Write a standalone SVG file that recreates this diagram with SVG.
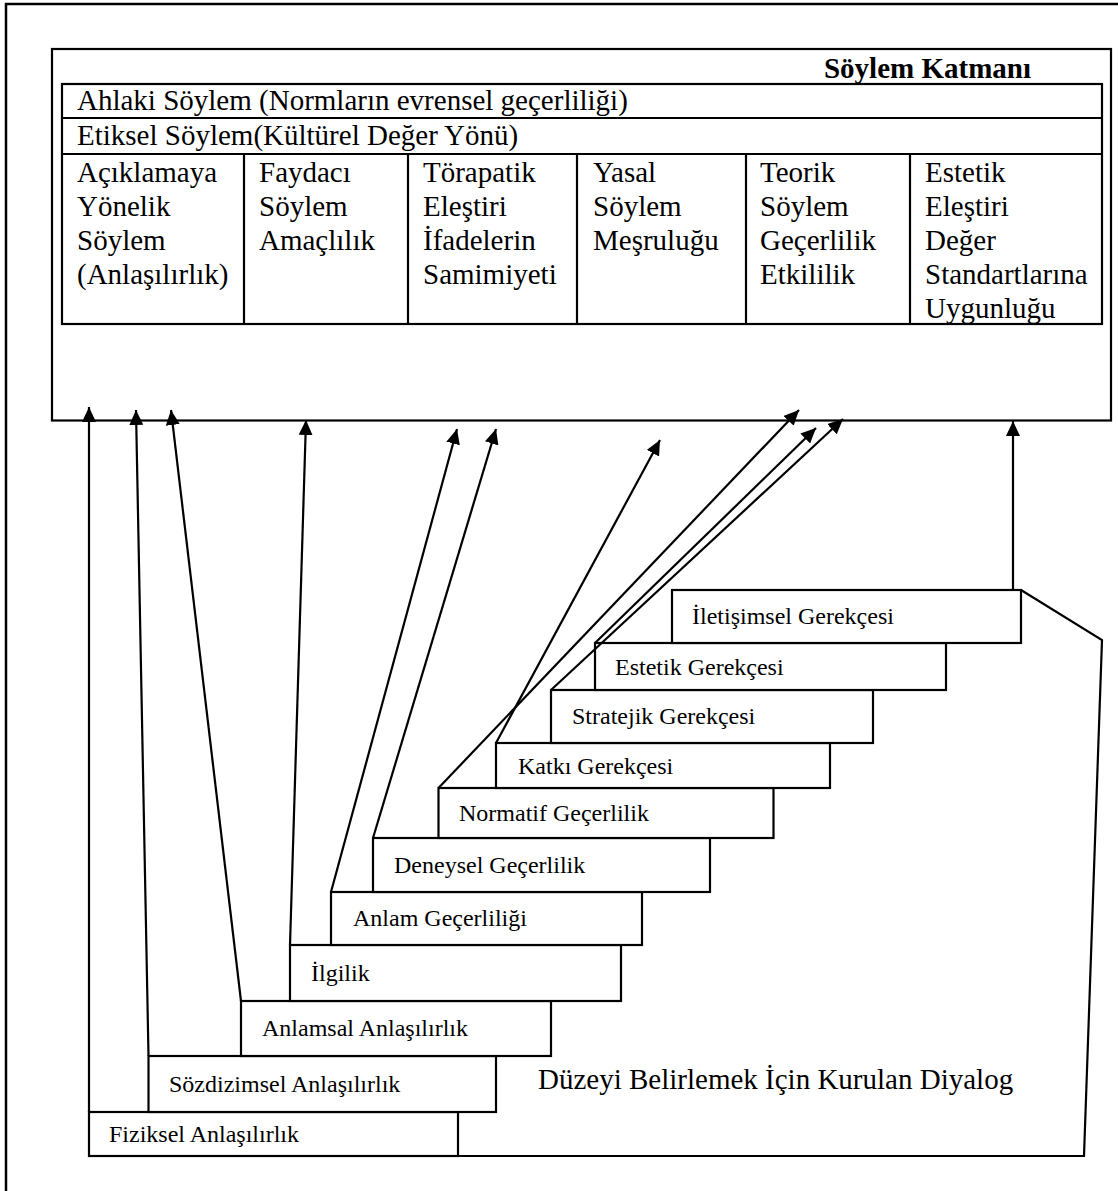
<svg xmlns="http://www.w3.org/2000/svg" width="1118" height="1191" viewBox="0 0 1118 1191">
  <style>
    .ln { stroke: #000; stroke-width: 2.2; fill: none; }
    .bx { stroke: #000; stroke-width: 2.2; fill: #fff; }
    .t { font-family: "Liberation Serif", "Times New Roman", serif; fill: #000; }
    .big { font-size: 29px; }
    .sm { font-size: 24px; }
    .b { font-weight: bold; }
    .ar { stroke: #000; stroke-width: 2.2; fill: none; marker-end: url(#ah); }
  </style>
  <defs>
    <marker id="ah" markerUnits="userSpaceOnUse" markerWidth="16" markerHeight="14" refX="15" refY="7" orient="auto">
      <path d="M0,0 L15,7 L0,14 z" fill="#000"/>
    </marker>
  </defs>
  <rect width="1118" height="1191" fill="#fff"/>
  <!-- outer frame (cropped) -->
  <path d="M6,1191 V4 H1118" stroke="#000" stroke-width="2.5" fill="none"/>

  <!-- top discourse layer box -->
  <g id="soylem-katmani">
    <rect class="ln" x="52" y="49" width="1059" height="371.5" stroke-width="2.5"/>
    <text class="t big b" x="1031" y="78" text-anchor="end">Söylem Katmanı</text>
    <rect class="ln" x="62" y="84" width="1040" height="240"/>
    <line class="ln" x1="62" y1="118" x2="1102" y2="118"/>
    <line class="ln" x1="62" y1="154" x2="1102" y2="154"/>
    <line class="ln" x1="244" y1="154" x2="244" y2="324"/>
    <line class="ln" x1="408" y1="154" x2="408" y2="324"/>
    <line class="ln" x1="577" y1="154" x2="577" y2="324"/>
    <line class="ln" x1="746" y1="154" x2="746" y2="324"/>
    <line class="ln" x1="910" y1="154" x2="910" y2="324"/>
    <text class="t big" x="77" y="110">Ahlaki Söylem (Normların evrensel geçerliliği)</text>
    <text class="t big" x="77" y="145">Etiksel Söylem(Kültürel Değer Yönü)</text>
    <text class="t big" x="77" y="182">Açıklamaya<tspan x="77" dy="34">Yönelik</tspan><tspan x="77" dy="34">Söylem</tspan><tspan x="77" dy="34">(Anlaşılırlık)</tspan></text>
    <text class="t big" x="259" y="182">Faydacı<tspan x="259" dy="34">Söylem</tspan><tspan x="259" dy="34">Amaçlılık</tspan></text>
    <text class="t big" x="423" y="182">Törapatik<tspan x="423" dy="34">Eleştiri</tspan><tspan x="423" dy="34">İfadelerin</tspan><tspan x="423" dy="34">Samimiyeti</tspan></text>
    <text class="t big" x="593" y="182">Yasal<tspan x="593" dy="34">Söylem</tspan><tspan x="593" dy="34">Meşruluğu</tspan></text>
    <text class="t big" x="760" y="182">Teorik<tspan x="760" dy="34">Söylem</tspan><tspan x="760" dy="34">Geçerlilik</tspan><tspan x="760" dy="34">Etkililik</tspan></text>
    <text class="t big" x="925" y="182">Estetik<tspan x="925" dy="34">Eleştiri</tspan><tspan x="925" dy="34">Değer</tspan><tspan x="925" dy="34">Standartlarına</tspan><tspan x="925" dy="34">Uygunluğu</tspan></text>
  </g>

  <!-- dialogue enclosure -->
  <g id="diyalog">
    <path class="ln" d="M1021,590 L1102,640 L1084,1156 L89,1156"/>
    <text class="t big" x="538" y="1089">Düzeyi Belirlemek İçin Kurulan Diyalog</text>
  </g>

  <!-- steps -->
  <g id="step-fiziksel"><rect class="bx" x="89" y="1112" width="369" height="44"/><text class="t sm" x="109" y="1142">Fiziksel Anlaşılırlık</text></g>
  <g id="step-sozdizimsel"><rect class="bx" x="148.5" y="1056" width="347.5" height="56"/><text class="t sm" x="169" y="1092">Sözdizimsel Anlaşılırlık</text></g>
  <g id="step-anlamsal"><rect class="bx" x="241" y="1001" width="310" height="55"/><text class="t sm" x="262" y="1036">Anlamsal Anlaşılırlık</text></g>
  <g id="step-ilgilik"><rect class="bx" x="290" y="945" width="331" height="56"/><text class="t sm" x="311" y="981">İlgilik</text></g>
  <g id="step-anlam"><rect class="bx" x="331" y="892" width="311" height="53"/><text class="t sm" x="353" y="926">Anlam Geçerliliği</text></g>
  <g id="step-deneysel"><rect class="bx" x="373" y="838" width="337" height="54"/><text class="t sm" x="394" y="873">Deneysel Geçerlilik</text></g>
  <g id="step-normatif"><rect class="bx" x="438.5" y="788" width="335" height="50"/><text class="t sm" x="459" y="821">Normatif Geçerlilik</text></g>
  <g id="step-katki"><rect class="bx" x="496" y="743" width="334" height="45"/><text class="t sm" x="518" y="774">Katkı Gerekçesi</text></g>
  <g id="step-stratejik"><rect class="bx" x="551" y="690" width="322" height="53"/><text class="t sm" x="572" y="724">Stratejik Gerekçesi</text></g>
  <g id="step-estetik"><rect class="bx" x="595" y="643" width="351" height="47"/><text class="t sm" x="615" y="675">Estetik Gerekçesi</text></g>
  <g id="step-iletisimsel"><rect class="bx" x="672" y="590" width="349" height="53"/><text class="t sm" x="692" y="624">İletişimsel Gerekçesi</text></g>

  <!-- connectors -->
  <g id="connectors">
    <line class="ar" x1="89" y1="1112" x2="89" y2="407"/>
    <line class="ar" x1="148.5" y1="1056" x2="136" y2="410"/>
    <line class="ar" x1="241" y1="1001" x2="171" y2="410"/>
    <line class="ar" x1="290" y1="945" x2="306" y2="420"/>
    <line class="ar" x1="331" y1="892" x2="457" y2="429"/>
    <line class="ar" x1="373" y1="838" x2="496" y2="429"/>
    <line class="ar" x1="496" y1="743" x2="660" y2="440"/>
    <line class="ar" x1="438.5" y1="788" x2="799" y2="410"/>
    <line class="ar" x1="595" y1="643" x2="816" y2="428"/>
    <line class="ar" x1="551" y1="690" x2="843" y2="419"/>
    <line class="ar" x1="1013" y1="590" x2="1013" y2="421"/>
  </g>
</svg>
